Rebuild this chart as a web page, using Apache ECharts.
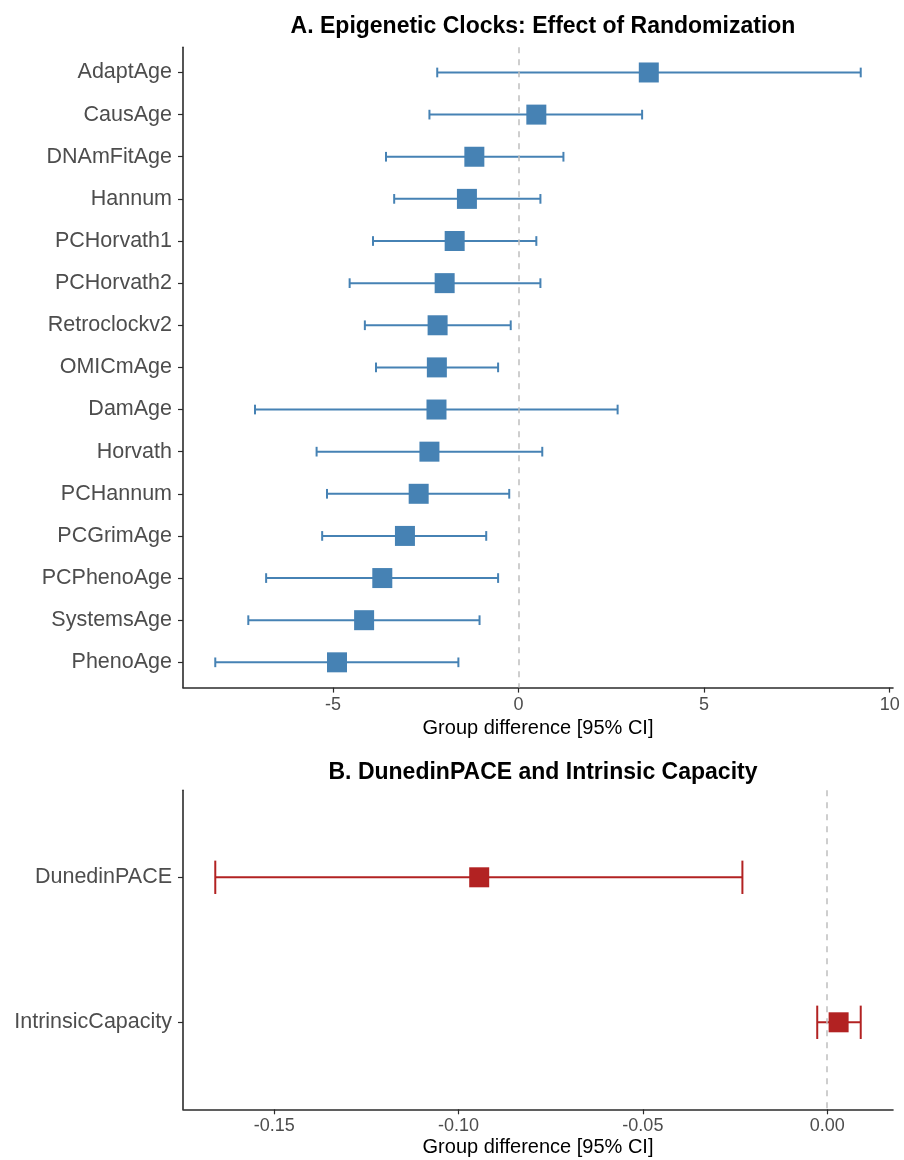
<!DOCTYPE html>
<html>
<head>
<meta charset="utf-8">
<script src="https://cdn.jsdelivr.net/npm/echarts@6/dist/echarts.min.js"></script>
<style>
  html, body { margin: 0; padding: 0; background: #ffffff; }
  #chart { width: 904px; height: 1160px; }
</style>
</head>
<body>
<div id="chart"></div>
<script>
// ---------- Data ----------
const clockNames = ["AdaptAge", "CausAge", "DNAmFitAge", "Hannum", "PCHorvath1", "PCHorvath2",
  "Retroclockv2", "OMICmAge", "DamAge", "Horvath", "PCHannum", "PCGrimAge", "PCPhenoAge",
  "SystemsAge", "PhenoAge"];
const clockEstimate = [3.51, 0.48, -1.19, -1.39, -1.72, -1.99, -2.18, -2.20, -2.21, -2.40, -2.69, -3.06, -3.67, -4.16, -4.89];
const clockLower = [-2.19, -2.40, -3.57, -3.35, -3.92, -4.55, -4.14, -3.84, -7.10, -5.44, -5.16, -5.29, -6.80, -7.28, -8.17];
const clockUpper = [9.22, 3.33, 1.21, 0.59, 0.48, 0.59, -0.21, -0.55, 2.67, 0.64, -0.25, -0.87, -0.55, -1.05, -1.62];
const clockTicks = [-5, 0, 5, 10];

const paceNames = ["DunedinPACE", "IntrinsicCapacity"];
const paceEstimate = [-0.0944, 0.0031];
const paceLower = [-0.166, -0.0027];
const paceUpper = [-0.0230, 0.0091];
const paceTicks = [-0.15, -0.10, -0.05, 0.00];

const titleA = "A. Epigenetic Clocks: Effect of Randomization";
const titleB = "B. DunedinPACE and Intrinsic Capacity";
const xTitle = "Group difference [95% CI]";

// ---------- Helpers ----------
const FONT = "'Liberation Sans', Arial, Helvetica, sans-serif";
const BLUE = "#4682B4";
const RED = "#B22222";
const AXIS_COLOR = "#2b2b2b";
const CAP = 0.23; // error bar cap width in category units

function extent(lo, hi) {
  const mn = Math.min(...lo), mx = Math.max(...hi);
  const pad = (mx - mn) * 0.05;
  return [mn - pad, mx + pad];
}
const extA = extent(clockLower, clockUpper);
const extB = extent(paceLower, paceUpper);

function errorRender(color) {
  return function (params, api) {
    const lo = api.coord([api.value(0), api.value(2)]);
    const hi = api.coord([api.value(1), api.value(2)]);
    const h = Math.abs(api.size([0, CAP])[1]) / 2;
    const st = { stroke: color, lineWidth: 2 };
    return {
      type: 'group',
      children: [
        { type: 'line', shape: { x1: lo[0], y1: lo[1], x2: hi[0], y2: hi[1] }, style: st },
        { type: 'line', shape: { x1: lo[0], y1: lo[1] - h, x2: lo[0], y2: lo[1] + h }, style: st },
        { type: 'line', shape: { x1: hi[0], y1: hi[1] - h, x2: hi[0], y2: hi[1] + h }, style: st }
      ]
    };
  };
}

function yAxisFor(names, gridIndex) {
  const idx = names.map((_, i) => i);
  return {
    type: 'value', gridIndex: gridIndex, inverse: true,
    min: -0.6, max: names.length - 1 + 0.6,
    splitLine: { show: false },
    axisLine: { show: true, onZero: false, lineStyle: { color: AXIS_COLOR, width: 1.6 } },
    axisTick: { show: true, length: 5, customValues: idx, lineStyle: { color: AXIS_COLOR, width: 1.2 } },
    axisLabel: {
      customValues: idx, margin: 11, fontSize: 21.5, color: '#4D4D4D', fontFamily: FONT,
      formatter: v => names[Math.round(v)]
    }
  };
}

function xAxisFor(ext, ticks, gridIndex, fmt) {
  return {
    type: 'value', gridIndex: gridIndex, min: ext[0], max: ext[1],
    splitLine: { show: false },
    axisLine: { show: true, onZero: false, lineStyle: { color: AXIS_COLOR, width: 1.6 } },
    axisTick: { show: true, length: 5, customValues: ticks, lineStyle: { color: AXIS_COLOR, width: 1.2 } },
    axisLabel: { customValues: ticks, margin: 8, fontSize: 18, color: '#4D4D4D', fontFamily: FONT, formatter: fmt },
    name: xTitle, nameLocation: 'middle', nameGap: 28,
    nameTextStyle: { fontSize: 20, color: '#000000', fontFamily: FONT }
  };
}

function zeroLine(xi, yi) {
  return {
    type: 'line', xAxisIndex: xi, yAxisIndex: yi, data: [], z: 1, silent: true,
    markLine: {
      silent: true, symbol: ['none', 'none'], label: { show: false },
      lineStyle: { type: [6, 6], color: '#BEBEBE', width: 1.5 },
      data: [{ xAxis: 0 }], animation: false
    }
  };
}

const chart = echarts.init(document.getElementById('chart'), null, { renderer: 'canvas' });
chart.setOption({
  animation: false,
  backgroundColor: '#ffffff',
  title: [
    { text: titleA, left: 538, top: 10, textAlign: 'center',
      textStyle: { fontSize: 23, fontWeight: 'bold', color: '#000', fontFamily: FONT } },
    { text: titleB, left: 538, top: 756, textAlign: 'center',
      textStyle: { fontSize: 23, fontWeight: 'bold', color: '#000', fontFamily: FONT } }
  ],
  grid: [
    { left: 183, right: 11, top: 47.2, bottom: 472.4, containLabel: false },
    { left: 183, right: 11, top: 790.3, bottom: 50.7, containLabel: false }
  ],
  xAxis: [
    xAxisFor(extA, clockTicks, 0, v => String(v)),
    xAxisFor(extB, paceTicks, 1, v => v.toFixed(2))
  ],
  yAxis: [yAxisFor(clockNames, 0), yAxisFor(paceNames, 1)],
  series: [
    zeroLine(0, 0),
    {
      type: 'custom', xAxisIndex: 0, yAxisIndex: 0, z: 2,
      renderItem: errorRender(BLUE),
      encode: { x: [0, 1], y: 2 },
      data: clockNames.map((_, i) => [clockLower[i], clockUpper[i], i])
    },
    {
      type: 'scatter', xAxisIndex: 0, yAxisIndex: 0, z: 3,
      symbol: 'rect', symbolSize: 20, itemStyle: { color: BLUE, opacity: 1 },
      data: clockNames.map((_, i) => [clockEstimate[i], i])
    },
    zeroLine(1, 1),
    {
      type: 'custom', xAxisIndex: 1, yAxisIndex: 1, z: 2,
      renderItem: errorRender(RED),
      encode: { x: [0, 1], y: 2 },
      data: paceNames.map((_, i) => [paceLower[i], paceUpper[i], i])
    },
    {
      type: 'scatter', xAxisIndex: 1, yAxisIndex: 1, z: 3,
      symbol: 'rect', symbolSize: 20, itemStyle: { color: RED, opacity: 1 },
      data: paceNames.map((_, i) => [paceEstimate[i], i])
    }
  ]
});
</script>
</body>
</html>
